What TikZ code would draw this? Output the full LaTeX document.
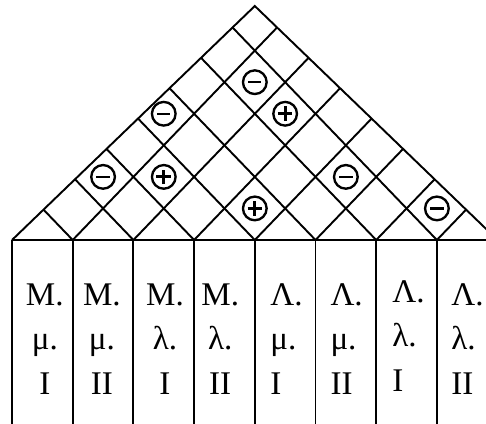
\documentclass[tikz,border=0pt]{standalone}
\usepackage{fontspec}
\setmainfont{Liberation Serif}
\usepackage{tikz}

\begin{document}
\begin{tikzpicture}[
    x=1cm,
    y=1cm,
    roofline/.style={line width=0.9pt},
    colline/.style={line width=0.9pt},
    lab/.style={font=\fontsize{15.5}{21}\selectfont, inner sep=0pt},
    midlab/.style={lab, align=center, anchor=base},
    leftlab/.style={lab, align=left, anchor=base west},
    sign/.style={circle, draw, line width=1.1pt, minimum size=0.39cm, inner sep=0pt},
    negsign/.style={sign, path picture={
        \draw[line width=1.1pt] ([xshift=-0.11cm]path picture bounding box.center)
          -- ([xshift=0.11cm]path picture bounding box.center);}},
    possign/.style={sign, path picture={
        \draw[line width=1.4pt] ([xshift=-0.12cm]path picture bounding box.center)
          -- ([xshift=0.12cm]path picture bounding box.center);
        \draw[line width=1.4pt] ([yshift=-0.12cm]path picture bounding box.center)
          -- ([yshift=0.12cm]path picture bounding box.center);}}
  ]
    \useasboundingbox (-0.198,-3.015) rectangle (7.809,3.954);
    \clip (-0.198,-3.015) rectangle (7.809,3.954);

    % roof
    \draw[roofline] (0,0) -- (4,3.855) -- (8,0);
    \begin{scope}
      \clip (0,0) -- (4,3.855) -- (8,0) -- cycle;
      \draw[roofline] (1,0) -- (5,4.16);
      \draw[roofline] (2,0) -- (6,4.16);
      \draw[roofline] (3,0) -- (7,4.16);
      \draw[roofline] (4,0) -- (8,4.16);
      \draw[roofline] (5,0) -- (9,4.16);
      \draw[roofline] (6,0) -- (10,4.16);
      \draw[roofline] (7,0) -- (11,4.16);
      \draw[roofline] (1,0) -- (-3,4.16);
      \draw[roofline] (2,0) -- (-2,4.16);
      \draw[roofline] (3,0) -- (-1,4.16);
      \draw[roofline] (4,0) -- (0,4.16);
      \draw[roofline] (5,0) -- (1,4.16);
      \draw[roofline] (6,0) -- (2,4.16);
      \draw[roofline] (7,0) -- (3,4.16);
    \end{scope}

    % correlations
    \node[negsign] (r13) at (1.5,1.04) {};
    \node[possign] (r24) at (2.5,1.04) {};
    \node[negsign] (r15) at (2.5,2.08) {};
    \node[negsign] (r27) at (4,2.6) {};
    \node[possign] (r37) at (4.5,2.08) {};
    \node[possign] (r45) at (4,0.52) {};
    \node[negsign] (r57) at (5.5,1.04) {};
    \node[negsign] (r78) at (7,0.52) {};

    % columns
    \draw[colline] (0,0) -- (8,0);
    \draw[colline] (0,0) -- (0,-3.1);
    \draw[colline] (1,0) -- (1,-3.1);
    \draw[colline] (2,0) -- (2,-3.1);
    \draw[colline] (3,0) -- (3,-3.1);
    \draw[colline] (4,0) -- (4,-3.1);
    \draw[colline] (5,0) -- (5,-3.1);
    \draw[colline] (6,0) -- (6,-3.1);
    \draw[colline] (7,0) -- (7,-3.1);
    \draw[colline] (8,0) -- (8,-3.1);

    \node[midlab] (c1) at (0.54,-2.55) {M.\\μ.\\I};
    \node[midlab] (c2) at (1.48,-2.55) {M.\\μ.\\II};
    \node[midlab] (c3) at (2.52,-2.55) {M.\\λ.\\I};
    \node[midlab] (c4) at (3.43,-2.55) {M.\\λ.\\II};
    \node[leftlab] (c5) at (4.25,-2.55) {Λ.\\μ.\\I};
    \node[leftlab] (c6) at (5.24,-2.55) {Λ.\\μ.\\II};
    \node[leftlab] (c7) at (6.26,-2.50) {Λ.\\λ.\\I};
    \node[leftlab] (c8) at (7.23,-2.55) {Λ.\\λ.\\II};
  \end{tikzpicture}
\end{document}
